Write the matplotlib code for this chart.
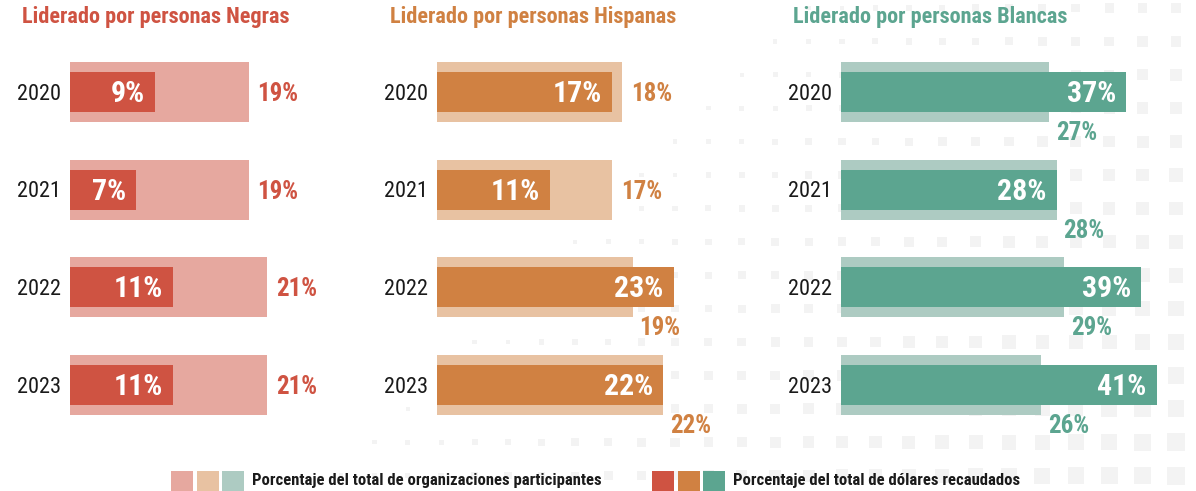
import matplotlib
matplotlib.use("Agg")
import matplotlib.pyplot as plt
from matplotlib.patches import Rectangle
import numpy as np

# ---------------- data ----------------
years = ["2020", "2021", "2022", "2023"]
groups = ["Liderado por personas Negras", "Liderado por personas Hispanas", "Liderado por personas Blancas"]
orgs_negras = [19, 19, 21, 21]        # % del total de organizaciones participantes
dollars_negras = [9, 7, 11, 11]       # % del total de dólares recaudados
orgs_hispanas = [18, 17, 19, 22]
dollars_hispanas = [17, 11, 23, 22]
orgs_blancas = [27, 28, 29, 26]
dollars_blancas = [37, 28, 39, 41]
legend_labels = ["Porcentaje del total de organizaciones participantes",
                 "Porcentaje del total de dólares recaudados"]

dark = ["#CF5342", "#D08142", "#5CA590"]
light = ["#E6A89F", "#E8C2A2", "#ADCBC2"]

W, H = 1196, 491
FONT = ["Roboto Condensed", "Archivo Narrow", "DejaVu Sans"]
plt.rcParams["font.family"] = FONT

fig = plt.figure(figsize=(W / 100, H / 100), dpi=100)
fig.patch.set_facecolor("white")

def fx(x):
    return x / W

def fy(y):
    return 1 - y / H

# decorative halftone squares (background ornament), in a pixel-space axes
bgax = fig.add_axes([0, 0, 1, 1], zorder=-1)
bgax.set_xlim(0, W)
bgax.set_ylim(H, 0)
bgax.axis("off")
pitch = 33.4
for i in range(-25, 8):
    cx = 1009 + pitch * i
    for j in range(0, 15):
        cy = 8 + pitch * j
        t = cx + cy - 800
        if t <= 0 or cy > 485:
            continue
        s = min(4 + 0.0165 * t, 18)
        bgax.add_patch(Rectangle((cx - s / 2, cy - s / 2), s, s,
                                 facecolor="#F3F3F3", edgecolor="none"))

panels = [
    (orgs_negras, dollars_negras, 70, 9.40, 22),
    (orgs_hispanas, dollars_hispanas, 437, 10.29, 390),
    (orgs_blancas, dollars_blancas, 841, 7.70, 793),
]

row_top, row_pitch = 92, 97.67
y0_px = row_top - row_pitch / 2
y1_px = row_top + 3 * row_pitch + row_pitch / 2
rows = np.arange(len(years))
bg_h = 60 / row_pitch
fg_h = 40 / row_pitch

for k, (orgs, dollars, left, scale, tx) in enumerate(panels):
    wpx = 340
    ax = fig.add_axes([fx(left), fy(y1_px), wpx / W, (y1_px - y0_px) / H], zorder=1)
    ax.set_xlim(0, wpx / scale)
    ax.set_ylim(3.5, -0.5)
    ax.axis("off")
    ax.patch.set_alpha(0)
    ax.barh(rows, orgs, height=bg_h, color=light[k], zorder=2)
    ax.barh(rows, dollars, height=fg_h, color=dark[k], zorder=3)
    for r, (o, d, yr) in enumerate(zip(orgs, dollars, years)):
        ax.annotate(yr, xy=(0, r), xytext=(-9, -2), textcoords="offset pixels",
                    ha="right", va="center", fontsize=16, color="#1a1a1a",
                    annotation_clip=False)
        ax.annotate(f"{d}%", xy=(d, r), xytext=(-10, -2), textcoords="offset pixels",
                    ha="right", va="center", fontsize=21.5, fontweight="bold",
                    color="white", zorder=5)
        if o > d:
            ax.annotate(f"{o}%", xy=(o, r), xytext=(9, -2), textcoords="offset pixels",
                        ha="left", va="center", fontsize=18, fontweight="bold",
                        color=dark[k], annotation_clip=False)
        else:
            ax.annotate(f"{o}%", xy=(o, r + bg_h / 2), xytext=(7, 1),
                        textcoords="offset pixels", ha="left", va="top",
                        fontsize=18, fontweight="bold", color=dark[k],
                        annotation_clip=False)
    fig.text(fx(tx), fy(17), groups[k], ha="left", va="center", fontsize=16,
             fontweight="bold", color=dark[k])

# legend
sw_w, sw_h = 22, 20
for g, (x0, cols) in enumerate([(171, light), (652, dark)]):
    for i, c in enumerate(cols):
        xs = x0 + i * 25.7
        fig.patches.append(Rectangle((fx(xs), fy(471 + sw_h)), sw_w / W, sw_h / H,
                                     transform=fig.transFigure, facecolor=c,
                                     edgecolor="none", zorder=3))
    fig.text(fx(x0 + 81), fy(481), legend_labels[g], ha="left", va="center",
             fontsize=12, fontweight="bold", color="#1a1a1a")

fig.savefig("out.png", dpi=100, facecolor="white")
